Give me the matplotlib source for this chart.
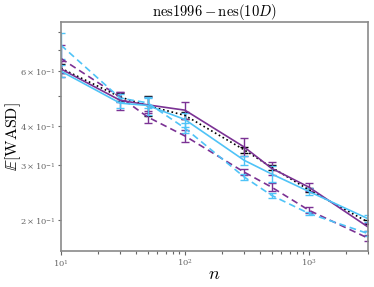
import numpy as np
import matplotlib
matplotlib.use("Agg")
import matplotlib.pyplot as plt

plt.rcParams['mathtext.fontset'] = 'cm'
plt.rcParams['font.family'] = 'DejaVu Serif'

# sample sizes
n = [10, 30, 50, 100, 300, 500, 1000, 3000]

# E[WASD] per method
purple_solid = [0.610, 0.484, 0.468, 0.450, 0.343, 0.293, 0.255, 0.190]
purple_solid_err = [0.036, 0.032, 0.028, 0.027, 0.023, 0.015, 0.008, 0.006]
purple_dashed = [0.659, 0.496, 0.428, 0.372, 0.285, 0.255, 0.215, 0.175]
purple_dashed_err = [0.068, 0.018, 0.019, 0.017, 0.006, 0.008, 0.005, 0.004]
blue_solid = [0.600, 0.474, 0.466, 0.420, 0.311, 0.281, 0.247, 0.202]
blue_solid_err = [0.027, 0.017, 0.031, 0.022, 0.011, 0.017, 0.007, 0.005]
blue_dashed = [0.727, 0.492, 0.475, 0.394, 0.275, 0.240, 0.210, 0.181]
blue_dashed_err = [0.070, 0.015, 0.018, 0.015, 0.006, 0.005, 0.003, 0.003]
black_dotted = [0.613, 0.496, 0.465, 0.433, 0.336, 0.295, 0.250, 0.197]
black_dotted_err = [0.020, 0.014, 0.034, 0.012, 0.008, 0.006, 0.004, 0.003]

PURPLE = '#7b3294'
BLUE = '#4fc3f7'

fig = plt.figure(figsize=(3.74, 2.87), dpi=100)
ax = fig.add_axes([0.163, 0.125, 0.821, 0.798])

kw = dict(capsize=3, capthick=1.0, elinewidth=1.0, lw=1.2)
ax.errorbar(n, black_dotted, yerr=black_dotted_err, color='black', ls=':', **kw)
ax.errorbar(n, purple_solid, yerr=purple_solid_err, color=PURPLE, ls='-', **kw)
ax.errorbar(n, purple_dashed, yerr=purple_dashed_err, color=PURPLE, ls=(0, (4, 2.5)), **kw)
ax.errorbar(n, blue_solid, yerr=blue_solid_err, color=BLUE, ls='-', **kw)
ax.errorbar(n, blue_dashed, yerr=blue_dashed_err, color=BLUE, ls=(0, (4, 2.5)), **kw)

ax.set_xscale('log')
ax.set_yscale('log')
ax.set_xlim(10, 3000)
ax.set_ylim(0.159, 0.862)

for s in ax.spines.values():
    s.set_color('#8a8a8a')
    s.set_linewidth(1.2)
ax.tick_params(which='both', colors='#666666', labelsize=6, width=0.8, pad=2)
ax.tick_params(which='major', length=3)
ax.tick_params(which='minor', length=2)

ax.set_title(r'$\mathrm{nes1996} - \mathrm{nes}(10D)$', fontsize=10.5, pad=3)
ax.set_xlabel(r'$n$', fontsize=13)
ax.set_ylabel(r'$\mathbb{E}[\mathrm{WASD}]$', fontsize=11.5)
ax.xaxis.set_label_coords(0.5, -0.06)
ax.yaxis.set_label_coords(-0.125, 0.5)

fig.savefig('out.png', dpi=100)
